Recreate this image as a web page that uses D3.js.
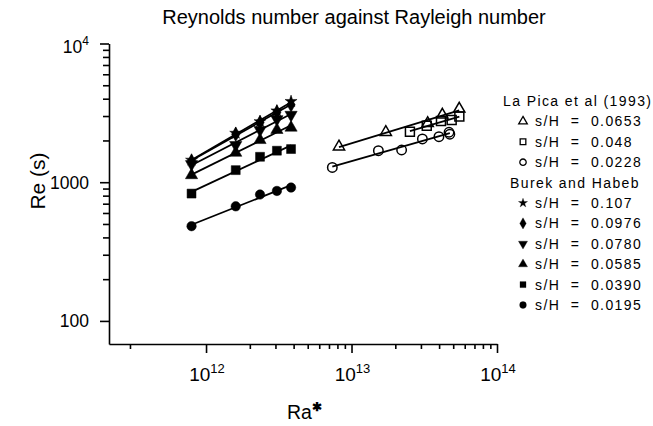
<!DOCTYPE html>
<html lang="en">
<head>
  <meta charset="UTF-8" />
  <title>Reynolds number against Rayleigh number</title>
  <script src="https://d3js.org/d3.v7.min.js"></script>
  <style>
    body { margin: 0; background: #fff; }
    svg { display: block; font-family: 'Liberation Sans', Arial, sans-serif; }
    .axis path, .axis line { stroke: #000; stroke-width: 1.6; }
    .legend text { font-size: 14px; letter-spacing: 1.4px; white-space: pre; }
  </style>
</head>
<body>
<script>
  // Burek and Habeb: shared Ra* values, one Re(s) array per s/H
  const burekRa = [7.95e11, 1.6e12, 2.35e12, 3.07e12, 3.84e12];
  const burek107 = [1443, 2255, 2735, 3270, 3823];
  const burek0976 = [1420, 2218, 2692, 3200, 3614];
  const burek0780 = [1350, 1854, 2381, 2847, 3060];
  const burek0585 = [1124, 1630, 2014, 2381, 2474];
  const burek0390 = [828, 1222, 1525, 1687, 1734];
  const burek0195 = [482, 670, 815, 865, 915];

  // La Pica et al (1993)
  const lapicaRa0653 = [8.2e12, 1.72e13, 3.34e13, 4.21e13, 5.5e13];
  const lapicaRe0653 = [1802, 2292, 2660, 3060, 3382];
  const lapicaRa048 = [2.52e13, 3.29e13, 4.12e13, 4.88e13, 5.51e13];
  const lapicaRe048 = [2312, 2557, 2766, 2813, 2972];
  const lapicaRa0228 = [7.38e12, 1.53e13, 2.21e13, 3.07e13, 3.99e13, 4.68e13, 4.74e13];
  const lapicaRe0228 = [1278, 1688, 1707, 2050, 2130, 2292, 2218];

  const xMajor = [1e12, 1e13, 1e14];
  const xMajorLabels = ["12", "13", "14"];
  const xMinor = [3e11, 2e12, 3e12, 4e12, 5e12, 6e12, 7e12, 8e12, 9e12,
                  2e13, 3e13, 4e13, 5e13, 6e13, 7e13, 8e13, 9e13];
  const yMajor = [100, 1000, 10000];
  const yMinor = [200, 300, 400, 500, 600, 700, 800, 900,
                  2000, 3000, 4000, 5000, 6000, 7000, 8000, 9000];

  const series = [
    { label: "s/H  =  0.0653", ra: lapicaRa0653, re: lapicaRe0653, sym: d3.symbolTriangle, open: true, group: 0 },
    { label: "s/H  =  0.048", ra: lapicaRa048, re: lapicaRe048, sym: d3.symbolSquare, open: true, group: 0 },
    { label: "s/H  =  0.0228", ra: lapicaRa0228, re: lapicaRe0228, sym: d3.symbolCircle, open: true, group: 0 },
    { label: "s/H  =  0.107", ra: burekRa, re: burek107, sym: d3.symbolStar, open: false, group: 1 },
    { label: "s/H  =  0.0976", ra: burekRa, re: burek0976, sym: d3.symbolDiamond, open: false, group: 1 },
    { label: "s/H  =  0.0780", ra: burekRa, re: burek0780, sym: "down", open: false, group: 1 },
    { label: "s/H  =  0.0585", ra: burekRa, re: burek0585, sym: d3.symbolTriangle, open: false, group: 1 },
    { label: "s/H  =  0.0390", ra: burekRa, re: burek0390, sym: d3.symbolSquare, open: false, group: 1 },
    { label: "s/H  =  0.0195", ra: burekRa, re: burek0195, sym: d3.symbolCircle, open: false, group: 1 }
  ];
  const groupTitles = ["La Pica et al (1993)", "Burek and Habeb"];
  const groupTitleX = [503, 510];

  const width = 653, height = 426;
  const svg = d3.select("body").append("svg")
    .attr("width", width).attr("height", height);

  const x = d3.scaleLog().domain([Math.pow(10, 11.333), 1e14]).range([109, 497]);
  const y = d3.scaleLog().domain([Math.pow(10, 1.8336), 1e4]).range([344, 43.5]);

  // axes: minor ticks first, then majors
  svg.append("g").attr("class", "axis")
    .attr("transform", "translate(0,344)")
    .call(d3.axisBottom(x).tickValues(xMinor).tickSize(5).tickSizeOuter(0).tickFormat(""));
  const xAx = svg.append("g").attr("class", "axis")
    .attr("transform", "translate(0,344)")
    .call(d3.axisBottom(x).tickValues(xMajor).tickSize(9).tickSizeOuter(0).tickFormat(""));
  xAx.select(".domain").remove();

  svg.append("g").attr("class", "axis")
    .attr("transform", "translate(109,0)")
    .call(d3.axisLeft(y).tickValues(yMinor).tickSize(6).tickSizeOuter(0).tickFormat(""));
  const yAx = svg.append("g").attr("class", "axis")
    .attr("transform", "translate(109,0)")
    .call(d3.axisLeft(y).tickValues(yMajor).tickSize(9).tickSizeOuter(0).tickFormat(""));
  yAx.select(".domain").remove();

  // x tick labels 10^n
  xMajor.forEach((v, i) => {
    const t = svg.append("text")
      .attr("x", x(v) + 1).attr("y", 381)
      .attr("text-anchor", "middle")
      .attr("font-size", 19);
    t.append("tspan").text("10");
    t.append("tspan").attr("font-size", 13).attr("dy", -8).text(xMajorLabels[i]);
  });

  // y tick labels
  yMajor.forEach(v => {
    const t = svg.append("text")
      .attr("x", 89).attr("y", y(v) + 6.5)
      .attr("text-anchor", "end")
      .attr("font-size", 17.5);
    if (v === 10000) {
      t.attr("y", y(v) + 9.5);
      t.append("tspan").text("10");
      t.append("tspan").attr("font-size", 12).attr("dy", -8).text("4");
    } else {
      t.text(d3.format("d")(v));
    }
  });

  // titles
  svg.append("text")
    .attr("x", 354).attr("y", 24)
    .attr("text-anchor", "middle")
    .attr("font-size", 20)
    .text("Reynolds number against Rayleigh number");

  svg.append("text")
    .attr("transform", "translate(45,181) rotate(-90)")
    .attr("text-anchor", "middle")
    .attr("font-size", 21)
    .text("Re (s)");

  const raLab = svg.append("text")
    .attr("x", 287).attr("y", 419)
    .attr("font-size", 19.5);
  raLab.append("tspan").text("Ra");
  raLab.append("tspan").attr("font-size", 12).attr("font-weight", "bold").attr("dy", -8).text("\u2731");

  // symbol helper
  function symPath(sym, size) {
    if (sym === "down") return d3.symbol(d3.symbolTriangle, size)();
    return d3.symbol(sym, size)();
  }
  function symTransform(s, px, py) {
    return s.sym === "down" ? `translate(${px},${py}) rotate(180)` : `translate(${px},${py})`;
  }
  function sizeFor(s) {
    if (s.sym === d3.symbolSquare) return 80;
    if (s.sym === d3.symbolCircle) return 70;
    if (s.sym === d3.symbolStar) return 45;
    if (s.sym === d3.symbolDiamond) return 60;
    return s.open ? 55 : 65;
  }

  // power-law fit lines
  const plot = svg.append("g");
  series.forEach(s => {
    const lx = s.ra.map(Math.log10), ly = s.re.map(Math.log10);
    const mx = d3.mean(lx), my = d3.mean(ly);
    const b = d3.sum(lx, (v, i) => (v - mx) * (ly[i] - my)) / d3.sum(lx, v => (v - mx) * (v - mx));
    const a = my - b * mx;
    const ends = d3.extent(s.ra);
    plot.append("path")
      .datum(ends)
      .attr("d", d3.line().x(d => x(d)).y(d => y(Math.pow(10, a + b * Math.log10(d)))))
      .attr("fill", "none")
      .attr("stroke", "#000")
      .attr("stroke-width", 1.8);
  });

  // markers
  series.forEach(s => {
    plot.selectAll(null)
      .data(s.ra.map((r, i) => [r, s.re[i]]))
      .join("path")
      .attr("d", symPath(s.sym, sizeFor(s)))
      .attr("transform", d => symTransform(s, x(d[0]), y(d[1])))
      .attr("fill", s.open ? "#fff" : "#000")
      .attr("fill-opacity", s.open ? 0 : 1)
      .attr("stroke", "#000")
      .attr("stroke-width", s.open ? 1.5 : 0.5);
  });

  // legend
  const legend = svg.append("g").attr("class", "legend");
  const rowH = 20.4;
  let row = 0;
  series.forEach((s, i) => {
    if (i === 0 || series[i - 1].group !== s.group) {
      legend.append("text")
        .attr("x", groupTitleX[s.group]).attr("y", 101 + row * rowH + 5)
        .text(groupTitles[s.group]);
      row++;
    }
    const cy = 101 + row * rowH;
    legend.append("path")
      .attr("d", symPath(s.sym, s.open ? 32 : (s.sym === d3.symbolStar ? 26 : 36)))
      .attr("transform", symTransform(s, 523, cy))
      .attr("fill", s.open ? "none" : "#000")
      .attr("stroke", "#000")
      .attr("stroke-width", s.open ? 1.3 : 0.3);
    legend.append("text")
      .attr("x", 535).attr("y", cy + 5)
      .text(s.label);
    row++;
  });
</script>
</body>
</html>
